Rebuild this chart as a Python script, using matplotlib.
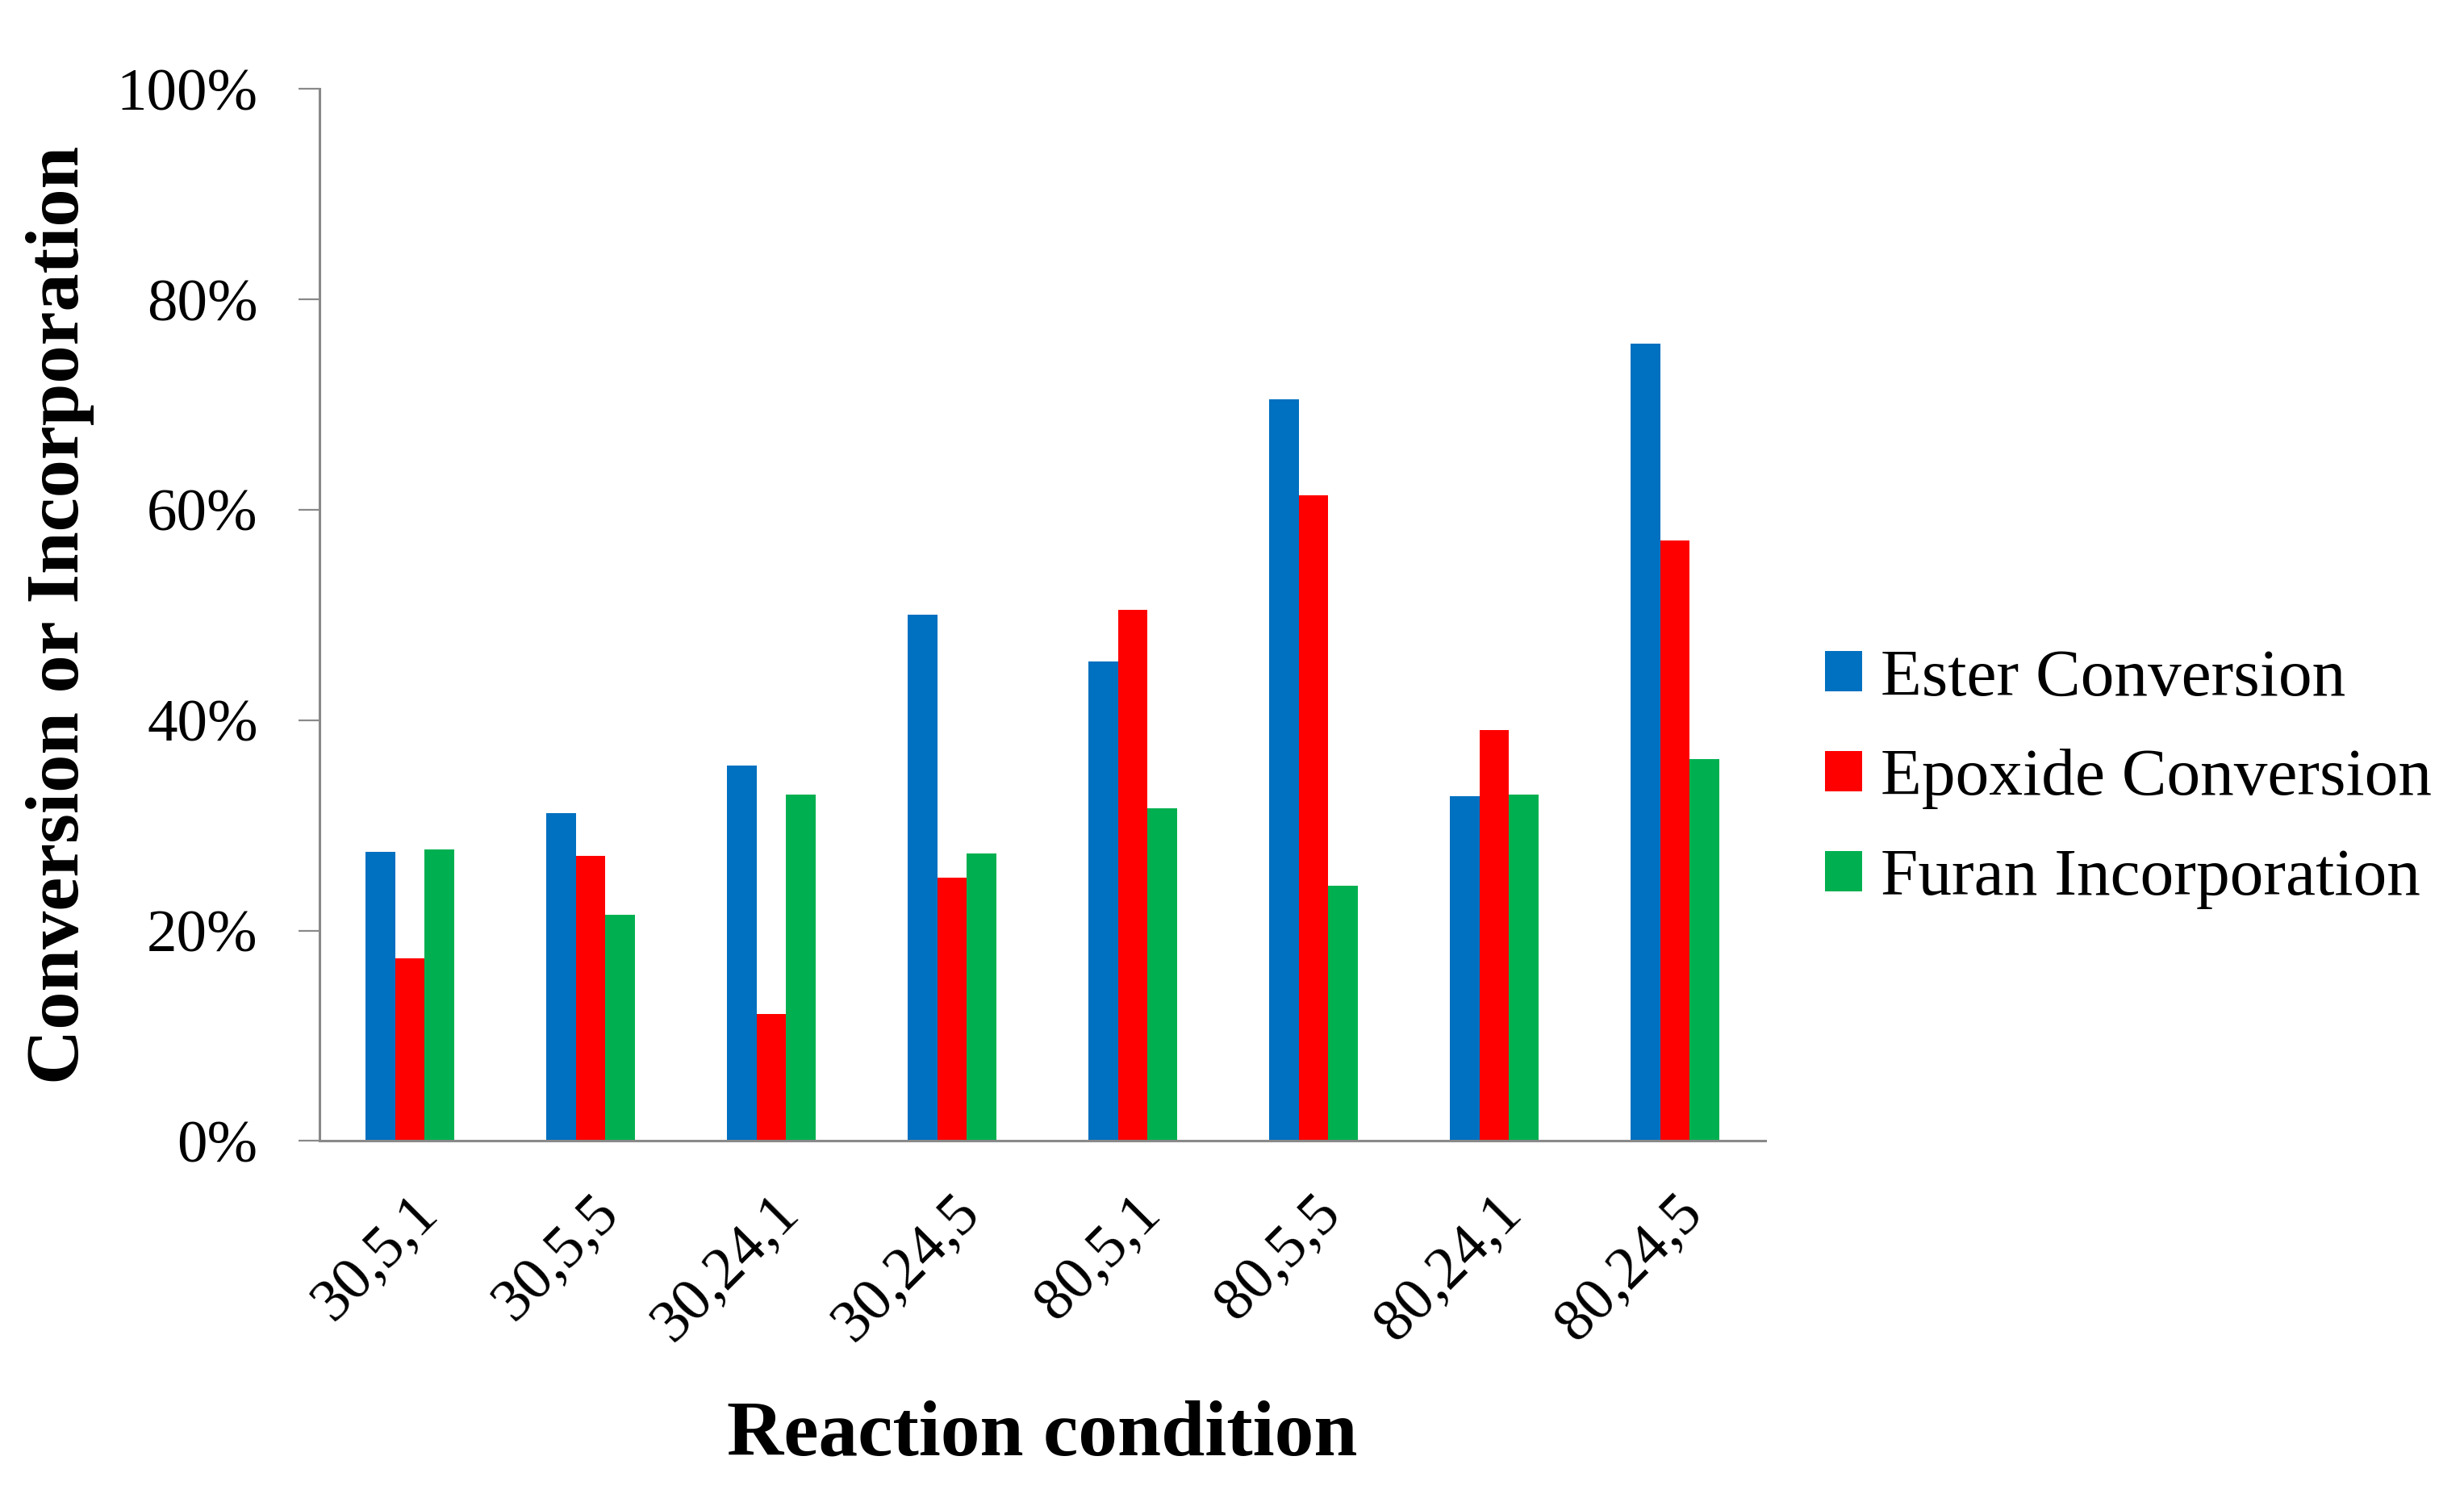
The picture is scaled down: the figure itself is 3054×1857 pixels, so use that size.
import matplotlib
matplotlib.use("Agg")
import matplotlib.pyplot as plt
import numpy as np
from matplotlib.ticker import PercentFormatter

categories = ["30,5,1", "30,5,5", "30,24,1", "30,24,5", "80,5,1", "80,5,5", "80,24,1", "80,24,5"]
ester = [27.5, 31.2, 35.7, 50.0, 45.6, 70.5, 32.8, 75.8]
epoxide = [17.4, 27.1, 12.1, 25.0, 50.5, 61.4, 39.1, 57.1]
furan = [27.7, 21.5, 32.9, 27.3, 31.6, 24.3, 32.9, 36.3]
series_names = ["Ester Conversion", "Epoxide Conversion", "Furan Incorporation"]
colors = ["#0070C0", "#FF0000", "#00B050"]

plt.rcParams['font.family'] = ['Liberation Serif', 'DejaVu Serif']

fig = plt.figure(figsize=(30.54, 18.57), dpi=100)
ax = fig.add_axes([0.1297, 0.2383, 0.7164 - 0.1297, 0.9405 - 0.2383])

x = np.arange(len(categories))
w = 0.163
for i, (vals, name, c) in enumerate(zip([ester, epoxide, furan], series_names, colors)):
    ax.bar(x + (i - 1) * w, vals, width=w, color=c, label=name, zorder=2)

ax.set_xlim(-0.5, len(categories) - 0.5)
ax.set_ylim(0, 100)
ax.set_yticks(np.arange(0, 101, 20))
ax.yaxis.set_major_formatter(PercentFormatter(decimals=0))
ax.set_xticks(x)
ax.set_xticklabels(categories, rotation=45, ha='right', rotation_mode='anchor')

for s in ['top', 'right']:
    ax.spines[s].set_visible(False)
for s in ['left', 'bottom']:
    ax.spines[s].set_color('#898989')
    ax.spines[s].set_linewidth(2.2)
ax.tick_params(axis='y', length=19, width=1.6, color='#898989', labelsize=54, pad=36)
ax.tick_params(axis='x', length=0, labelsize=54, pad=40)

ax.set_ylabel("Conversion or Incorporation", fontsize=68, fontweight='bold', labelpad=20)
ax.set_xlabel("Reaction condition", fontsize=70, fontweight='bold', labelpad=42)

fig.legend(loc='center left', bbox_to_anchor=(0.7407, 0.480), frameon=False,
           fontsize=60, handlelength=0.55, handleheight=0.55, handletextpad=0.28,
           labelspacing=0.58, borderpad=0, borderaxespad=0)

fig.savefig("out.png", dpi=100)
